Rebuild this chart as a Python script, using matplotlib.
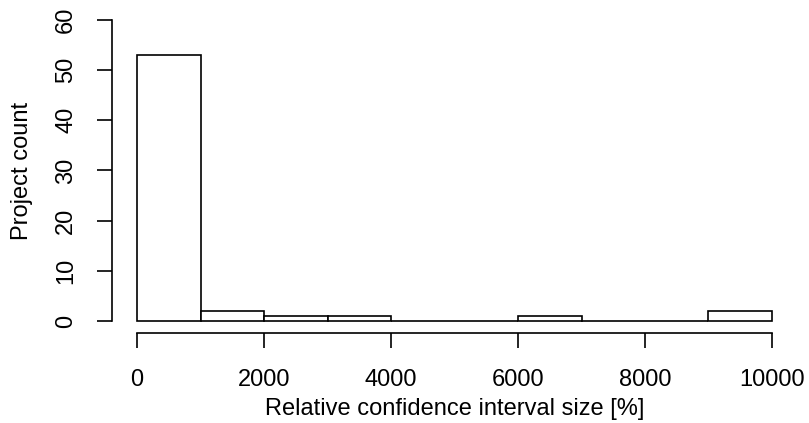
import matplotlib
matplotlib.use("Agg")
import matplotlib.pyplot as plt
import numpy as np

# histogram bins (relative CI size, %) and counts
bin_edges = [0, 1000, 2000, 3000, 4000, 5000, 6000, 7000, 8000, 9000, 10000]
counts = [53, 2, 1, 1, 0, 0, 1, 0, 0, 2]
x_ticks = [0, 2000, 4000, 6000, 8000, 10000]
y_ticks = [0, 10, 20, 30, 40, 50, 60]

plt.rcParams['font.family'] = ['Liberation Sans', 'DejaVu Sans']
lw = 1.2

fig = plt.figure(figsize=(8.09, 4.23), dpi=100)
ax = fig.add_axes([111.6 / 809, 90 / 423, 685.8 / 809, 325 / 423])

edges = np.array(bin_edges)
ax.bar(edges[:-1], counts, width=np.diff(edges), align='edge',
       facecolor='white', edgecolor='black', linewidth=lw)

ax.set_xlim(-400, 10400)
ax.set_ylim(-2.4, 62.4)

for s in ['top', 'right']:
    ax.spines[s].set_visible(False)
ax.spines['left'].set_bounds(0, 60)
ax.spines['bottom'].set_bounds(0, 10000)
for s in ['left', 'bottom']:
    ax.spines[s].set_linewidth(lw)

ax.set_xticks(x_ticks)
ax.set_xticklabels([str(t) for t in x_ticks])
ax.set_yticks(y_ticks)
ax.set_yticklabels([str(t) for t in y_ticks], rotation=90, va='center')
ax.tick_params(axis='both', length=10.8, width=lw, labelsize=17)
ax.tick_params(axis='x', pad=15)
ax.tick_params(axis='y', pad=14)

ax.set_xlabel('Relative confidence interval size [%]', fontsize=17)
ax.xaxis.set_label_coords(0.5, -0.235)
ax.xaxis.label.set_va('center')
ax.set_ylabel('Project count', fontsize=17)
ax.yaxis.set_label_coords(-90 / 685.8, 0.5)
ax.yaxis.label.set_va('center')

fig.savefig('out.png', dpi=100)
